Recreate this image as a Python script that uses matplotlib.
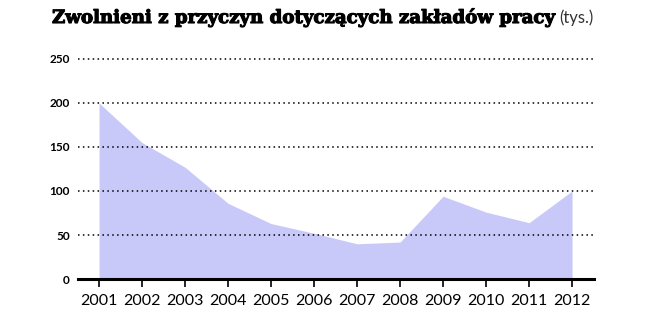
import matplotlib
matplotlib.use('Agg')
import matplotlib.pyplot as plt
import matplotlib.patheffects as pe

years = [2001, 2002, 2003, 2004, 2005, 2006, 2007, 2008, 2009, 2010, 2011, 2012]
zwolnieni = [200, 155, 127, 86, 63, 52, 40, 42, 94, 76, 64, 100]
y_ticks = [0, 50, 100, 150, 200, 250]

fig = plt.figure(figsize=(6.57, 3.23), dpi=100, facecolor='white')
ax = fig.add_axes([78/657, 1-279/323, (594-78)/657, (279-54.6)/323])

ax.fill_between(years, zwolnieni, 0, color='#c9c9f9', lw=0, zorder=1)

for v in y_ticks[1:]:
    ax.axhline(v, color='k', lw=1.1, ls=(0, (1, 2.2)), zorder=2)

ax.set_xlim(2000.51, 2012.51)
ax.set_ylim(0, 255)
for s in ['top', 'right', 'left']:
    ax.spines[s].set_visible(False)
ax.spines['bottom'].set_linewidth(2.2)
ax.spines['bottom'].set_zorder(3)

ax.set_xticks(years)
ax.set_xticklabels([str(y) for y in years], fontsize=11.5, family='Lato')
ax.set_yticks(y_ticks)
ax.set_yticklabels([str(v) for v in y_ticks], fontsize=8.5, fontweight='bold', family='Lato')
ax.tick_params(axis='x', length=6, width=1.2, pad=5)
ax.tick_params(axis='y', length=0, pad=6)

t = fig.text(52/657, 1-23/323, 'Zwolnieni z przyczyn dotyczących zakładów pracy',
             fontsize=13.1, fontweight='bold', family='DejaVu Serif', va='baseline',
             path_effects=[pe.withStroke(linewidth=0.8, foreground='black')])
fig.canvas.draw()
bb = t.get_window_extent()
fig.text((bb.x1 + 5)/657, 1-23/323, '(tys.)', fontsize=12, family='Lato',
         color='#333333', va='baseline')

plt.savefig('out.png', dpi=100, facecolor='white')
